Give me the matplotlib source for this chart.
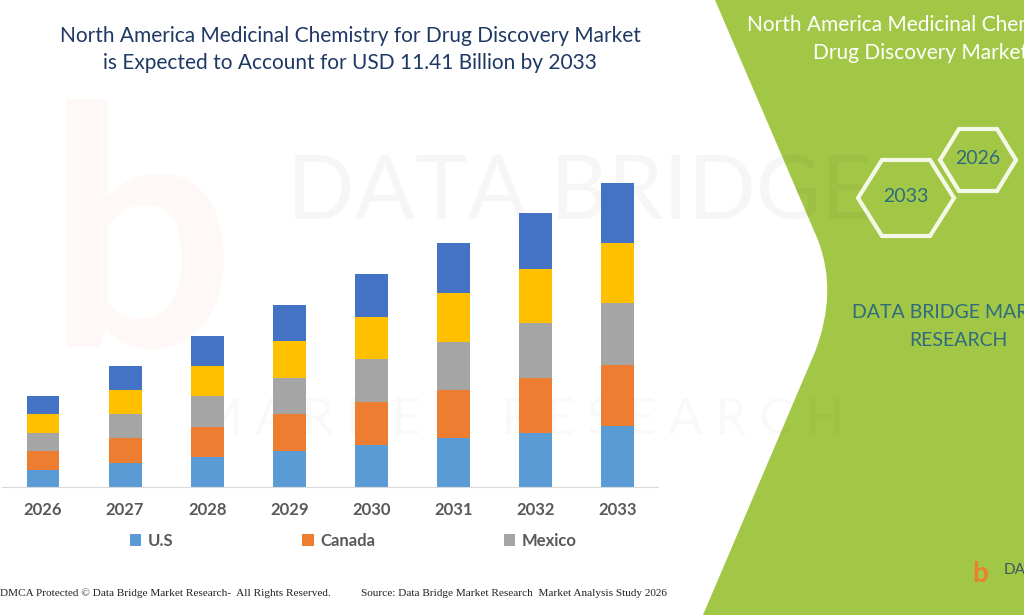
import matplotlib.pyplot as plt
import numpy as np
from matplotlib.patches import Patch, Polygon, PathPatch
from matplotlib.path import Path

# stacked market values (USD billion)
years = ["2026", "2027", "2028", "2029", "2030", "2031", "2032", "2033"]
us = [0.64, 0.90, 1.13, 1.35, 1.58, 1.84, 2.03, 2.29]
canada = [0.71, 0.94, 1.13, 1.39, 1.61, 1.80, 2.06, 2.29]
mexico = [0.68, 0.90, 1.16, 1.35, 1.61, 1.80, 2.06, 2.33]
seg4 = [0.71, 0.90, 1.13, 1.39, 1.58, 1.84, 2.03, 2.25]
seg5 = [0.68, 0.90, 1.13, 1.35, 1.61, 1.88, 2.10, 2.25]

series = [us, canada, mexico, seg4, seg5]
colors = ["#5b9bd5", "#ed7d31", "#a5a5a5", "#ffc000", "#4472c4"]
legend_names = ["U.S", "Canada", "Mexico"]

fig = plt.figure(figsize=(10.24, 6.15), dpi=100)
fig.patch.set_facecolor("white")

# background layer in pixel coords for the decorations
bg = fig.add_axes([0, 0, 1, 1], zorder=0)
bg.set_xlim(0, 1024)
bg.set_ylim(615, 0)
bg.axis("off")

# faint watermark
bg.text(580, 195, "DATA BRIDGE", fontsize=64, color="#000000", alpha=0.035,
        ha="center", va="center", family="Lato")
bg.text(520, 420, "M A R K E T   R E S E A R C H", fontsize=36, color="#000000",
        alpha=0.025, ha="center", va="center", family="Lato")
bg.text(140, 250, "b", fontsize=240, color="#ed7d31", alpha=0.04,
        ha="center", va="center", family="Lato", fontweight="bold")

# green side panel
verts = [(715, 0), (1024, 0), (1024, 615), (703, 615),
         (815, 352),
         (838, 292), (818, 240),
         (715, 0)]
codes = [Path.MOVETO, Path.LINETO, Path.LINETO, Path.LINETO,
         Path.LINETO,
         Path.CURVE3, Path.CURVE3,
         Path.CLOSEPOLY]
bg.add_patch(PathPatch(Path(verts, codes), facecolor="#a2c747", edgecolor="none"))

bg.text(747, 25, "North America Medicinal Chemistry for", fontsize=15,
        color="white", ha="left", va="center", family="Lato")
bg.text(813, 53, "Drug Discovery Market", fontsize=15,
        color="white", ha="left", va="center", family="Lato")


def hexagon(cx, cy, w, h):
    return [(cx - w / 2, cy), (cx - w / 4, cy - h / 2), (cx + w / 4, cy - h / 2),
            (cx + w / 2, cy), (cx + w / 4, cy + h / 2), (cx - w / 4, cy + h / 2)]


for cx, cy, w, h, lab in [(906, 198, 96, 76, "2033"), (978, 160, 76, 62, "2026")]:
    bg.add_patch(Polygon(hexagon(cx, cy, w, h), closed=True, facecolor="none",
                         edgecolor="#f4f8e6", lw=3))
    bg.text(cx, cy - 2, lab, fontsize=14, color="#2f6b7c", ha="center",
            va="center", family="Lato")

bg.text(958, 313, "DATA BRIDGE MARKET", fontsize=14, color="#2f6b7c",
        ha="center", va="center", family="Lato")
bg.text(958, 341, "RESEARCH", fontsize=14, color="#2f6b7c",
        ha="center", va="center", family="Lato")

# small logo bottom right
bg.text(980, 574, "b", fontsize=20, color="#ed7d31", ha="center", va="center",
        family="Lato", fontweight="bold")
bg.text(1004, 570, "DA", fontsize=11, color="#3a5a60", ha="left", va="center",
        family="Lato")

# footer
bg.text(0, 593, "DMCA Protected \u00a9 Data Bridge Market Research-  All Rights Reserved.",
        fontsize=8.1, color="#222222", ha="left", va="center", family="Liberation Serif")
bg.text(361, 593, "Source: Data Bridge Market Research  Market Analysis Study 2026",
        fontsize=8.1, color="#222222", ha="left", va="center", family="Liberation Serif")

# title
fig.text(0.342, 0.941, "North America Medicinal Chemistry for Drug Discovery Market",
         fontsize=15, color="#1f3864", ha="center", va="center", family="Lato")
fig.text(0.342, 0.897, "is Expected to Account for USD 11.41 Billion by 2033",
         fontsize=15, color="#1f3864", ha="center", va="center", family="Lato")

# chart
ax = fig.add_axes([0.002, 0.208, 0.641, 0.494], zorder=2)
ax.patch.set_alpha(0)
x = np.arange(len(years))
bottom = np.zeros(len(years))
for vals, col in zip(series, colors):
    ax.bar(x, vals, width=0.4, bottom=bottom, color=col, edgecolor="none")
    bottom += np.array(vals)

ax.set_xlim(-0.5, len(years) - 0.5)
ax.set_ylim(0, 11.41)
ax.set_xticks(x)
ax.set_xticklabels(years, fontsize=12, fontweight="bold", color="#595959", family="Lato")
ax.tick_params(axis="x", length=0, pad=11)
ax.set_yticks([])
for s in ["top", "right", "left"]:
    ax.spines[s].set_visible(False)
ax.spines["bottom"].set_color("#d9d9d9")

handles = [Patch(facecolor=c) for c in colors[:3]]
leg = fig.legend(handles, legend_names, loc="center", bbox_to_anchor=(0.345, 0.121),
                 ncol=3, frameon=False, handlelength=0.7, handleheight=0.7,
                 handletextpad=0.4, columnspacing=7.7,
                 prop={"family": "Lato", "weight": "bold", "size": 12})
for t in leg.get_texts():
    t.set_color("#595959")

fig.savefig("out.png", dpi=100)
